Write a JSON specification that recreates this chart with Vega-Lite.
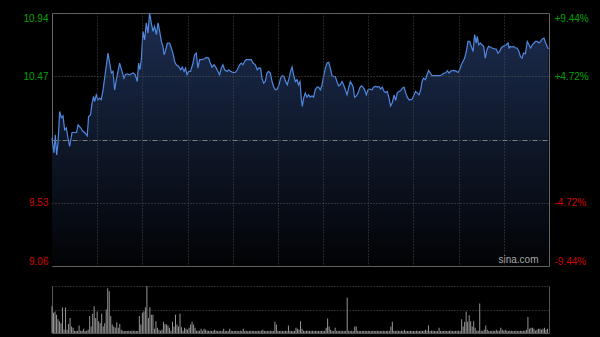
{
"$schema":"https://vega.github.io/schema/vega-lite/v6.json",
"background":"#000000",
"padding":{"left":0,"right":0,"top":10,"bottom":5},
"spacing":19,
"config":{"view":{"stroke":null},"font":"Liberation Sans","axis":{"labelFont":"Liberation Sans","labelFontSize":10}},
"datasets":{
"price":[{"t":0,"p":10.010},{"t":1.3,"p":9.901},{"t":2.2,"p":10.035},{"t":3.1,"p":9.886},{"t":4.0,"p":9.975},{"t":5.1,"p":10.208},{"t":6.2,"p":10.161},{"t":7.3,"p":10.176},{"t":8.4,"p":10.072},{"t":9.5,"p":10.087},{"t":10.6,"p":10.012},{"t":11.7,"p":9.948},{"t":13.3,"p":10.052},{"t":15.0,"p":10.052},{"t":16.3,"p":10.052},{"t":17.3,"p":10.109},{"t":19.0,"p":10.087},{"t":20.6,"p":10.059},{"t":22.1,"p":10.047},{"t":23.4,"p":10.027},{"t":24.3,"p":10.171},{"t":25.6,"p":10.183},{"t":26.6,"p":10.270},{"t":27.6,"p":10.320},{"t":28.3,"p":10.282},{"t":29.4,"p":10.332},{"t":30.5,"p":10.295},{"t":31.6,"p":10.308},{"t":32.7,"p":10.295},{"t":33.9,"p":10.369},{"t":35.4,"p":10.494},{"t":37.2,"p":10.642},{"t":38.3,"p":10.568},{"t":39.4,"p":10.494},{"t":40.5,"p":10.506},{"t":41.6,"p":10.369},{"t":42.7,"p":10.444},{"t":43.8,"p":10.506},{"t":44.9,"p":10.568},{"t":46.5,"p":10.506},{"t":47.8,"p":10.456},{"t":48.7,"p":10.481},{"t":50.0,"p":10.488},{"t":51.5,"p":10.481},{"t":53.8,"p":10.494},{"t":55.3,"p":10.481},{"t":56.6,"p":10.431},{"t":57.5,"p":10.568},{"t":58.4,"p":10.518},{"t":59.3,"p":10.593},{"t":60.4,"p":10.803},{"t":61.5,"p":10.741},{"t":62.6,"p":10.866},{"t":63.7,"p":10.791},{"t":64.8,"p":10.94},{"t":65.9,"p":10.866},{"t":67.1,"p":10.803},{"t":68.1,"p":10.840},{"t":69.3,"p":10.779},{"t":70.4,"p":10.866},{"t":71.5,"p":10.803},{"t":72.6,"p":10.729},{"t":73.7,"p":10.692},{"t":74.4,"p":10.630},{"t":75.2,"p":10.654},{"t":76.6,"p":10.717},{"t":78.1,"p":10.717},{"t":79.2,"p":10.680},{"t":80.3,"p":10.642},{"t":81.4,"p":10.580},{"t":82.5,"p":10.555},{"t":84.1,"p":10.543},{"t":85.4,"p":10.518},{"t":86.5,"p":10.538},{"t":87.7,"p":10.506},{"t":88.7,"p":10.531},{"t":89.6,"p":10.481},{"t":90.7,"p":10.506},{"t":92.0,"p":10.506},{"t":93.6,"p":10.568},{"t":94.7,"p":10.630},{"t":95.8,"p":10.642},{"t":96.9,"p":10.531},{"t":98.0,"p":10.593},{"t":99.1,"p":10.593},{"t":100.9,"p":10.598},{"t":102.5,"p":10.610},{"t":104.0,"p":10.605},{"t":105.1,"p":10.568},{"t":106.2,"p":10.538},{"t":107.6,"p":10.555},{"t":109.1,"p":10.531},{"t":110.2,"p":10.506},{"t":111.3,"p":10.481},{"t":112.4,"p":10.531},{"t":113.5,"p":10.555},{"t":114.6,"p":10.518},{"t":116.2,"p":10.506},{"t":117.3,"p":10.518},{"t":118.6,"p":10.506},{"t":120.2,"p":10.498},{"t":121.7,"p":10.498},{"t":123.0,"p":10.518},{"t":124.6,"p":10.555},{"t":125.7,"p":10.568},{"t":126.8,"p":10.555},{"t":127.9,"p":10.580},{"t":129.0,"p":10.593},{"t":130.5,"p":10.593},{"t":132.3,"p":10.593},{"t":133.5,"p":10.568},{"t":135.0,"p":10.555},{"t":136.3,"p":10.518},{"t":137.2,"p":10.531},{"t":138.5,"p":10.531},{"t":139.4,"p":10.456},{"t":140.5,"p":10.419},{"t":141.6,"p":10.431},{"t":142.8,"p":10.494},{"t":143.8,"p":10.506},{"t":145.0,"p":10.494},{"t":146.1,"p":10.431},{"t":147.1,"p":10.394},{"t":148.3,"p":10.369},{"t":149.6,"p":10.375},{"t":150.7,"p":10.407},{"t":151.8,"p":10.456},{"t":152.9,"p":10.474},{"t":154.1,"p":10.468},{"t":155.1,"p":10.431},{"t":156.2,"p":10.407},{"t":157.4,"p":10.456},{"t":158.4,"p":10.506},{"t":159.4,"p":10.538},{"t":160.4,"p":10.481},{"t":161.6,"p":10.431},{"t":162.7,"p":10.444},{"t":163.7,"p":10.407},{"t":164.7,"p":10.431},{"t":165.5,"p":10.308},{"t":166.2,"p":10.245},{"t":167.1,"p":10.308},{"t":168.2,"p":10.345},{"t":169.3,"p":10.315},{"t":170.4,"p":10.332},{"t":171.5,"p":10.315},{"t":172.6,"p":10.325},{"t":173.7,"p":10.315},{"t":174.8,"p":10.369},{"t":176.0,"p":10.389},{"t":177.0,"p":10.389},{"t":178.2,"p":10.369},{"t":179.3,"p":10.407},{"t":180.3,"p":10.468},{"t":181.5,"p":10.531},{"t":182.6,"p":10.568},{"t":183.7,"p":10.573},{"t":184.8,"p":10.531},{"t":185.9,"p":10.474},{"t":187.0,"p":10.468},{"t":188.1,"p":10.468},{"t":189.2,"p":10.431},{"t":190.3,"p":10.399},{"t":191.4,"p":10.407},{"t":192.6,"p":10.431},{"t":193.6,"p":10.407},{"t":194.8,"p":10.369},{"t":195.9,"p":10.332},{"t":196.9,"p":10.382},{"t":198.1,"p":10.431},{"t":199.9,"p":10.394},{"t":200.9,"p":10.315},{"t":202.1,"p":10.325},{"t":203.2,"p":10.345},{"t":204.3,"p":10.382},{"t":205.4,"p":10.399},{"t":206.5,"p":10.389},{"t":207.6,"p":10.369},{"t":208.7,"p":10.332},{"t":209.8,"p":10.369},{"t":210.9,"p":10.375},{"t":212.5,"p":10.369},{"t":213.5,"p":10.389},{"t":214.7,"p":10.394},{"t":216.0,"p":10.389},{"t":217.1,"p":10.394},{"t":218.2,"p":10.375},{"t":219.3,"p":10.389},{"t":220.5,"p":10.357},{"t":221.5,"p":10.349},{"t":222.6,"p":10.357},{"t":223.8,"p":10.308},{"t":224.8,"p":10.250},{"t":226.0,"p":10.275},{"t":227.1,"p":10.332},{"t":228.2,"p":10.290},{"t":229.3,"p":10.349},{"t":230.4,"p":10.357},{"t":231.5,"p":10.364},{"t":232.6,"p":10.382},{"t":233.7,"p":10.389},{"t":234.8,"p":10.349},{"t":235.9,"p":10.315},{"t":237.1,"p":10.295},{"t":238.1,"p":10.295},{"t":239.2,"p":10.300},{"t":240.4,"p":10.332},{"t":241.4,"p":10.357},{"t":242.6,"p":10.345},{"t":243.7,"p":10.332},{"t":244.8,"p":10.369},{"t":245.7,"p":10.431},{"t":246.7,"p":10.456},{"t":247.9,"p":10.444},{"t":249.0,"p":10.481},{"t":250.1,"p":10.513},{"t":251.2,"p":10.494},{"t":252.3,"p":10.474},{"t":254.1,"p":10.474},{"t":255.8,"p":10.474},{"t":257.4,"p":10.474},{"t":259.0,"p":10.481},{"t":260.3,"p":10.494},{"t":261.4,"p":10.494},{"t":262.5,"p":10.511},{"t":263.6,"p":10.494},{"t":265.1,"p":10.511},{"t":266.9,"p":10.513},{"t":268.5,"p":10.506},{"t":269.6,"p":10.498},{"t":270.7,"p":10.518},{"t":271.8,"p":10.555},{"t":272.9,"p":10.580},{"t":274.0,"p":10.605},{"t":275.1,"p":10.654},{"t":276.2,"p":10.729},{"t":277.3,"p":10.729},{"t":278.4,"p":10.692},{"t":279.6,"p":10.654},{"t":280.6,"p":10.779},{"t":281.7,"p":10.717},{"t":282.4,"p":10.766},{"t":283.3,"p":10.704},{"t":284.4,"p":10.717},{"t":285.5,"p":10.704},{"t":286.6,"p":10.692},{"t":287.7,"p":10.605},{"t":288.8,"p":10.667},{"t":289.9,"p":10.692},{"t":291.0,"p":10.687},{"t":292.2,"p":10.680},{"t":293.9,"p":10.674},{"t":295.0,"p":10.672},{"t":296.1,"p":10.642},{"t":297.2,"p":10.654},{"t":298.3,"p":10.680},{"t":299.5,"p":10.692},{"t":300.5,"p":10.697},{"t":301.7,"p":10.704},{"t":302.8,"p":10.717},{"t":303.5,"p":10.680},{"t":304.3,"p":10.692},{"t":305.4,"p":10.687},{"t":306.5,"p":10.692},{"t":307.6,"p":10.680},{"t":308.8,"p":10.680},{"t":309.8,"p":10.662},{"t":311.0,"p":10.617},{"t":312.1,"p":10.605},{"t":313.1,"p":10.642},{"t":314.3,"p":10.637},{"t":315.6,"p":10.729},{"t":316.7,"p":10.704},{"t":317.8,"p":10.680},{"t":318.9,"p":10.704},{"t":320.1,"p":10.717},{"t":321.1,"p":10.729},{"t":322.2,"p":10.729},{"t":323.4,"p":10.717},{"t":324.4,"p":10.729},{"t":325.6,"p":10.747},{"t":326.7,"p":10.754},{"t":327.8,"p":10.717},{"t":328.9,"p":10.687},{"t":329.7,"p":10.672}],
"vol":[{"t":0,"v":57},{"t":1,"v":43},{"t":2,"v":46},{"t":3,"v":39},{"t":4,"v":29},{"t":5,"v":25},{"t":6,"v":21},{"t":7,"v":54},{"t":8,"v":7},{"t":9,"v":54},{"t":10,"v":7},{"t":11,"v":19},{"t":12,"v":32},{"t":13,"v":14},{"t":14,"v":11},{"t":15,"v":5},{"t":16,"v":4},{"t":17,"v":5},{"t":18,"v":16},{"t":19,"v":5},{"t":20,"v":5},{"t":21,"v":9},{"t":22,"v":4},{"t":23,"v":5},{"t":24,"v":7},{"t":25,"v":36},{"t":26,"v":14},{"t":27,"v":41},{"t":28,"v":57},{"t":29,"v":32},{"t":30,"v":46},{"t":31,"v":25},{"t":32,"v":21},{"t":33,"v":41},{"t":34,"v":14},{"t":35,"v":21},{"t":36,"v":50},{"t":37,"v":95},{"t":38,"v":89},{"t":39,"v":36},{"t":40,"v":18},{"t":41,"v":14},{"t":42,"v":11},{"t":43,"v":23},{"t":44,"v":11},{"t":45,"v":19},{"t":46,"v":7},{"t":47,"v":5},{"t":48,"v":4},{"t":49,"v":4},{"t":50,"v":4},{"t":51,"v":5},{"t":52,"v":4},{"t":53,"v":5},{"t":54,"v":5},{"t":55,"v":5},{"t":56,"v":4},{"t":57,"v":4},{"t":58,"v":36},{"t":59,"v":18},{"t":60,"v":43},{"t":61,"v":46},{"t":62,"v":54},{"t":63,"v":100},{"t":64,"v":32},{"t":65,"v":55},{"t":66,"v":39},{"t":67,"v":39},{"t":68,"v":9},{"t":69,"v":25},{"t":70,"v":11},{"t":71,"v":7},{"t":72,"v":5},{"t":73,"v":7},{"t":74,"v":24},{"t":75,"v":19},{"t":76,"v":18},{"t":77,"v":16},{"t":78,"v":11},{"t":79,"v":5},{"t":80,"v":24},{"t":81,"v":14},{"t":82,"v":39},{"t":83,"v":18},{"t":84,"v":14},{"t":85,"v":41},{"t":86,"v":12},{"t":87,"v":5},{"t":88,"v":11},{"t":89,"v":9},{"t":90,"v":7},{"t":91,"v":11},{"t":92,"v":18},{"t":93,"v":24},{"t":94,"v":18},{"t":95,"v":11},{"t":96,"v":5},{"t":97,"v":5},{"t":98,"v":5},{"t":99,"v":9},{"t":100,"v":5},{"t":101,"v":9},{"t":102,"v":7},{"t":103,"v":5},{"t":104,"v":5},{"t":105,"v":5},{"t":106,"v":4},{"t":107,"v":5},{"t":108,"v":7},{"t":109,"v":5},{"t":110,"v":4},{"t":111,"v":4},{"t":112,"v":4},{"t":113,"v":5},{"t":114,"v":9},{"t":115,"v":4},{"t":116,"v":4},{"t":117,"v":4},{"t":118,"v":9},{"t":119,"v":5},{"t":120,"v":4},{"t":121,"v":4},{"t":122,"v":5},{"t":123,"v":4},{"t":124,"v":4},{"t":125,"v":5},{"t":126,"v":4},{"t":127,"v":9},{"t":128,"v":4},{"t":129,"v":5},{"t":130,"v":4},{"t":131,"v":4},{"t":132,"v":5},{"t":133,"v":4},{"t":134,"v":5},{"t":135,"v":4},{"t":136,"v":4},{"t":137,"v":5},{"t":138,"v":4},{"t":139,"v":5},{"t":140,"v":7},{"t":141,"v":4},{"t":142,"v":4},{"t":143,"v":5},{"t":144,"v":4},{"t":145,"v":5},{"t":146,"v":4},{"t":147,"v":4},{"t":148,"v":24},{"t":149,"v":18},{"t":150,"v":5},{"t":151,"v":4},{"t":152,"v":5},{"t":153,"v":4},{"t":154,"v":4},{"t":155,"v":5},{"t":156,"v":4},{"t":157,"v":16},{"t":158,"v":5},{"t":159,"v":4},{"t":160,"v":4},{"t":161,"v":4},{"t":162,"v":11},{"t":163,"v":9},{"t":164,"v":7},{"t":165,"v":25},{"t":166,"v":9},{"t":167,"v":5},{"t":168,"v":4},{"t":169,"v":5},{"t":170,"v":5},{"t":171,"v":4},{"t":172,"v":5},{"t":173,"v":5},{"t":174,"v":4},{"t":175,"v":5},{"t":176,"v":4},{"t":177,"v":4},{"t":178,"v":4},{"t":179,"v":5},{"t":180,"v":4},{"t":181,"v":5},{"t":182,"v":11},{"t":183,"v":31},{"t":184,"v":14},{"t":185,"v":7},{"t":186,"v":5},{"t":187,"v":4},{"t":188,"v":11},{"t":189,"v":5},{"t":190,"v":4},{"t":191,"v":5},{"t":192,"v":4},{"t":193,"v":5},{"t":194,"v":4},{"t":195,"v":5},{"t":196,"v":75},{"t":197,"v":5},{"t":198,"v":4},{"t":199,"v":5},{"t":200,"v":4},{"t":201,"v":14},{"t":202,"v":14},{"t":203,"v":5},{"t":204,"v":4},{"t":205,"v":4},{"t":206,"v":4},{"t":207,"v":5},{"t":208,"v":4},{"t":209,"v":4},{"t":210,"v":5},{"t":211,"v":4},{"t":212,"v":4},{"t":213,"v":5},{"t":214,"v":4},{"t":215,"v":4},{"t":216,"v":5},{"t":217,"v":4},{"t":218,"v":4},{"t":219,"v":4},{"t":220,"v":5},{"t":221,"v":4},{"t":222,"v":4},{"t":223,"v":5},{"t":224,"v":4},{"t":225,"v":14},{"t":226,"v":24},{"t":227,"v":5},{"t":228,"v":4},{"t":229,"v":5},{"t":230,"v":5},{"t":231,"v":4},{"t":232,"v":5},{"t":233,"v":4},{"t":234,"v":7},{"t":235,"v":4},{"t":236,"v":4},{"t":237,"v":4},{"t":238,"v":5},{"t":239,"v":4},{"t":240,"v":4},{"t":241,"v":4},{"t":242,"v":5},{"t":243,"v":4},{"t":244,"v":4},{"t":245,"v":5},{"t":246,"v":4},{"t":247,"v":5},{"t":248,"v":7},{"t":249,"v":5},{"t":250,"v":16},{"t":251,"v":4},{"t":252,"v":5},{"t":253,"v":5},{"t":254,"v":4},{"t":255,"v":4},{"t":256,"v":4},{"t":257,"v":11},{"t":258,"v":4},{"t":259,"v":4},{"t":260,"v":4},{"t":261,"v":5},{"t":262,"v":4},{"t":263,"v":4},{"t":264,"v":5},{"t":265,"v":5},{"t":266,"v":4},{"t":267,"v":4},{"t":268,"v":4},{"t":269,"v":5},{"t":270,"v":5},{"t":271,"v":4},{"t":272,"v":29},{"t":273,"v":14},{"t":274,"v":24},{"t":275,"v":46},{"t":276,"v":24},{"t":277,"v":38},{"t":278,"v":25},{"t":279,"v":14},{"t":280,"v":25},{"t":281,"v":11},{"t":282,"v":5},{"t":283,"v":5},{"t":284,"v":63},{"t":285,"v":5},{"t":286,"v":4},{"t":287,"v":7},{"t":288,"v":16},{"t":289,"v":7},{"t":290,"v":4},{"t":291,"v":4},{"t":292,"v":5},{"t":293,"v":5},{"t":294,"v":4},{"t":295,"v":7},{"t":296,"v":5},{"t":297,"v":5},{"t":298,"v":11},{"t":299,"v":7},{"t":300,"v":5},{"t":301,"v":7},{"t":302,"v":5},{"t":303,"v":4},{"t":304,"v":5},{"t":305,"v":5},{"t":306,"v":4},{"t":307,"v":4},{"t":308,"v":5},{"t":309,"v":4},{"t":310,"v":4},{"t":311,"v":5},{"t":312,"v":4},{"t":313,"v":5},{"t":314,"v":5},{"t":315,"v":7},{"t":316,"v":34},{"t":317,"v":9},{"t":318,"v":11},{"t":319,"v":11},{"t":320,"v":9},{"t":321,"v":5},{"t":322,"v":7},{"t":323,"v":9},{"t":324,"v":9},{"t":325,"v":7},{"t":326,"v":9},{"t":327,"v":11},{"t":328,"v":7},{"t":329,"v":9}]
},
"vconcat":[
{
"width":497,"height":253,
"view":{"stroke":"#666666","strokeWidth":1},
"data":{"name":"price"},
"layer":[
{"mark":{"type":"area","interpolate":"linear","color":{"gradient":"linear","x1":0,"y1":0,"x2":0,"y2":1,"stops":[{"offset":0,"color":"#1c2d50"},{"offset":1,"color":"#020305"}]}},
 "encoding":{
  "x":{"field":"t","type":"quantitative","scale":{"domain":[0,330],"nice":false,"zero":false},
   "axis":{"values":[30,60,90,120,150,180,210,240,270,300],"labels":false,"ticks":false,"domain":false,"grid":true,"gridColor":"#4a4a4a","gridDash":[1,2],"title":null,"minExtent":0,"maxExtent":0,"zindex":1}},
  "y":{"field":"p","type":"quantitative","scale":{"domain":[9.06,10.94],"nice":false,"zero":false},
   "axis":{"orient":"left","values":[9.06,9.53,10,10.47,10.94],"labelExpr":"datum.value == 10 ? '' : format(datum.value, '.2f')","labelColor":{"condition":{"test":"datum.value > 10","value":"#00a000"},"value":"#d00000"},"labelFlush":true,"labelPadding":4,"ticks":false,"domain":false,"title":null,"grid":true,"gridColor":{"condition":{"test":"datum.value == 10","value":"#7a7a7a"},"value":"#555555"},"gridDash":{"condition":{"test":"datum.value == 10","value":[5,2,1,2]},"value":[1,2]},"minExtent":51,"maxExtent":51,"zindex":1}},
  "y2":{"datum":9.06}
 }},
{"mark":{"type":"line","color":"#5088e0","strokeWidth":1.2,"interpolate":"linear"},
 "encoding":{
  "x":{"field":"t","type":"quantitative","axis":null},
  "y":{"field":"p","type":"quantitative",
   "axis":{"orient":"right","values":[9.06,9.53,10.47,10.94],"labelExpr":"datum.value > 10.7 ? '+9.44%' : datum.value > 10.2 ? '+4.72%' : datum.value > 9.3 ? '-4.72%' : '-9.44%'","labelColor":{"condition":{"test":"datum.value > 10","value":"#00a000"},"value":"#d00000"},"labelFlush":true,"labelPadding":5,"ticks":false,"domain":false,"grid":false,"title":null,"minExtent":52,"maxExtent":52}}
 }},
{"data":{"values":[{"label":"sina.com"}]},
 "mark":{"type":"text","align":"right","baseline":"bottom","dy":-1,"fontSize":10,"font":"Liberation Sans","color":"#a8a8a8"},
 "encoding":{
  "x":{"datum":323,"type":"quantitative","axis":null},
  "y":{"datum":9.06,"type":"quantitative","axis":null},
  "text":{"field":"label"}
 }}
],
"resolve":{"axis":{"x":"independent","y":"independent"}}
},
{
"width":497,"height":47,
"data":{"name":"vol"},
"layer":[
{"mark":{"type":"bar","color":"#959595","size":1},
 "encoding":{
  "x":{"field":"t","type":"quantitative","scale":{"domain":[0,330],"nice":false,"zero":false,"padding":0},
   "axis":{"labels":false,"ticks":false,"domain":true,"domainColor":"#555555","grid":false,"title":null,"minExtent":0,"maxExtent":0}},
  "y":{"field":"v","type":"quantitative","scale":{"domain":[0,100],"nice":false},
   "axis":{"orient":"left","values":[50,100],"labels":false,"ticks":false,"domain":true,"domainColor":"#555555","grid":true,"gridColor":"#555555","gridDash":[1,2],"title":null,"minExtent":51,"maxExtent":51}}
 }},
{"data":{"values":[{"k":1}]},
 "mark":{"type":"rule","opacity":0},
 "encoding":{
  "y":{"datum":0,"type":"quantitative",
   "axis":{"orient":"right","labels":false,"ticks":false,"grid":false,"domain":true,"domainColor":"#555555","title":null,"minExtent":52,"maxExtent":52}}
 }}
],
"resolve":{"axis":{"y":"independent"}}
}
]
}
